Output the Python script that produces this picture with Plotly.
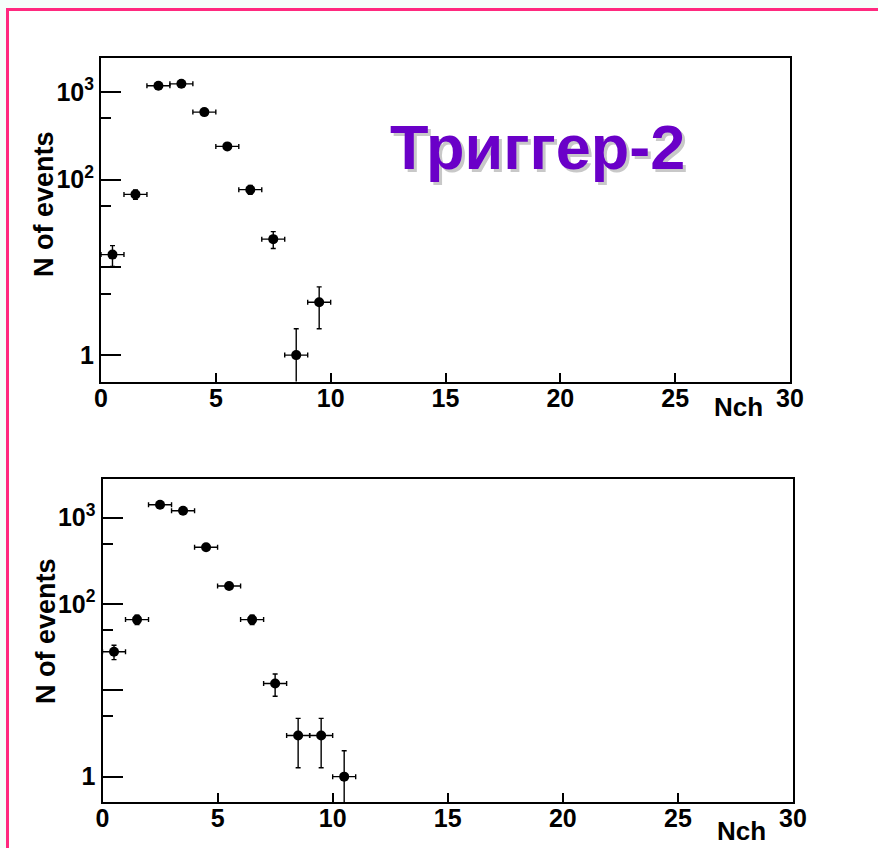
import numpy as np
import plotly.graph_objects as go

# ---- data ----
nch_top = [0.5, 1.5, 2.5, 3.5, 4.5, 5.5, 6.5, 7.5, 8.5, 9.5]
events_top = [14, 68, 1180, 1240, 590, 240, 77, 21, 1, 4]

nch_bot = [0.5, 1.5, 2.5, 3.5, 4.5, 5.5, 6.5, 7.5, 8.5, 9.5, 10.5]
events_bot = [28, 66, 1415, 1205, 454, 162, 66, 12, 3, 3, 1]

x_ticks = [0, 5, 10, 15, 20, 25, 30]
y_major = [1, 10, 100, 1000]
y_major_text = ["1", "", "10<sup>2</sup>", "10<sup>3</sup>"]
y_minor = [5, 50, 500]

title_text = "Триггер-2"
W, H = 878, 848
FONT = "Liberation Sans, Arial, sans-serif"

fig = go.Figure()


def add_series(xs, ys, xa, ya):
    ys = np.array(ys, dtype=float)
    err = np.sqrt(ys)
    fig.add_trace(go.Scatter(
        x=xs, y=ys, mode="markers", xaxis=xa, yaxis=ya,
        marker=dict(color="black", size=10),
        error_y=dict(type="data", array=err, arrayminus=err, color="black",
                     thickness=1.4, width=2.5),
        error_x=dict(type="constant", value=0.5, color="black",
                     thickness=1.4, width=2.5),
        showlegend=False, hoverinfo="x+y",
    ))


add_series(nch_top, events_top, "x", "y")
add_series(nch_bot, events_bot, "x2", "y2")


def px_x(v):
    return v / W


def px_y(v):
    return 1 - v / H


tick_font = dict(family=FONT, size=25, color="black", weight="bold")

xaxis_common = dict(
    range=[0, 30], tickvals=x_ticks, ticks="inside", ticklen=9, tickwidth=1.5,
    tickcolor="black", showline=True, linecolor="black", linewidth=2,
    mirror=True, showgrid=False, zeroline=False, tickfont=tick_font,
    ticklabelstandoff=-7, automargin=False,
)
yaxis_common = dict(
    type="log", tickvals=y_major, ticktext=y_major_text, ticks="inside",
    ticklen=20, tickwidth=1.5, tickcolor="black", showline=True,
    linecolor="black", linewidth=2, mirror=True, showgrid=False,
    zeroline=False, tickfont=tick_font, automargin=False,
    minor=dict(tickvals=y_minor, ticks="inside", ticklen=10, tickwidth=1.5,
               tickcolor="black", showgrid=False),
)

fig.update_layout(
    width=W, height=H, autosize=False,
    margin=dict(l=0, r=0, t=0, b=0, autoexpand=False),
    paper_bgcolor="#f5fffa", plot_bgcolor="white",
    xaxis=dict(domain=[px_x(101), px_x(790)], anchor="y", **xaxis_common),
    yaxis=dict(domain=[px_y(381.5), px_y(58)], anchor="x",
               range=[-0.301, 3.388], **yaxis_common),
    xaxis2=dict(domain=[px_x(102.5), px_x(793)], anchor="y2", **xaxis_common),
    yaxis2=dict(domain=[px_y(802.3), px_y(479.3)], anchor="x2",
                range=[-0.297, 3.445], **yaxis_common),
    shapes=[dict(type="rect", xref="paper", yref="paper", layer="below",
                 x0=px_x(7.5), x1=1.05, y0=-0.05, y1=px_y(9.5),
                 line=dict(color="#ff2a7f", width=3), fillcolor="white")],
)

annotations = [
    dict(text="N of events", x=px_x(44), y=px_y(204), textangle=-90, size=27),
    dict(text="N of events", x=px_x(46), y=px_y(631), textangle=-90, size=27),
    dict(text="Nch", x=px_x(738), y=px_y(407), textangle=0, size=26),
    dict(text="Nch", x=px_x(741), y=px_y(831), textangle=0, size=26),
]
for a in annotations:
    fig.add_annotation(xref="paper", yref="paper", showarrow=False,
                       xanchor="center", yanchor="middle",
                       text=a["text"], x=a["x"], y=a["y"], textangle=a["textangle"],
                       font=dict(family=FONT, size=a["size"], color="black",
                                 weight="bold"))

# title with drop shadow
fig.add_annotation(text=title_text, xref="paper", yref="paper",
                   x=px_x(540), y=px_y(150), showarrow=False,
                   xanchor="center", yanchor="middle",
                   font=dict(family=FONT, size=63, color="#c8c8c8", weight="bold"))
fig.add_annotation(text=title_text, xref="paper", yref="paper",
                   x=px_x(537), y=px_y(147), showarrow=False,
                   xanchor="center", yanchor="middle",
                   font=dict(family=FONT, size=63, color="#6a00c8", weight="bold"))

fig.write_html(
    "out.html",
    config={"responsive": False, "displayModeBar": False},
    post_script="document.body.style.margin='0';document.body.style.overflow='hidden';",
)
